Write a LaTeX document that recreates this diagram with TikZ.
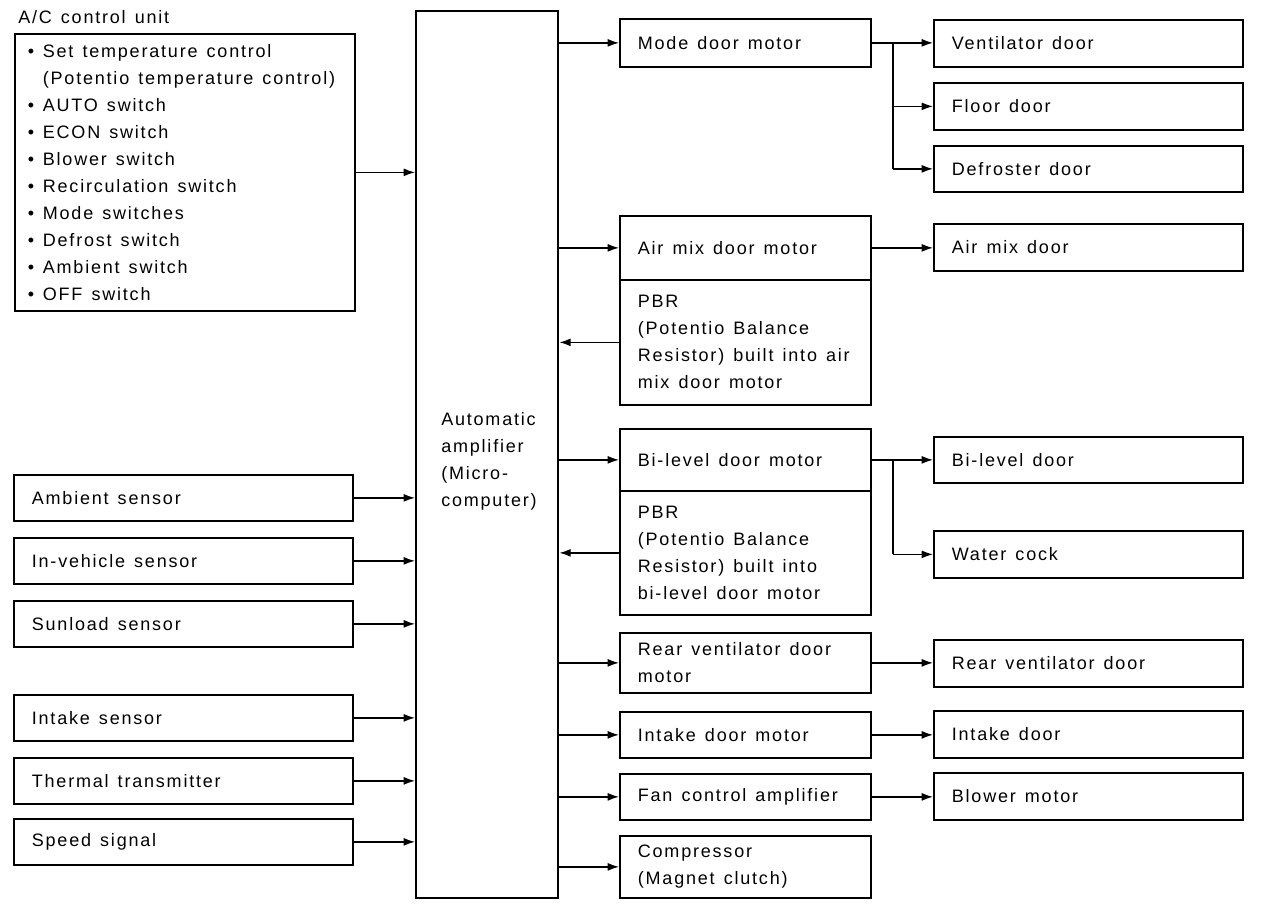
\documentclass[tikz,border=0pt]{standalone}
\usepackage{fontspec}
\setmainfont{Liberation Sans}[LetterSpace=10, WordSpace=1.8]
\usetikzlibrary{arrows.meta}
\newcommand{\fsz}{\fontsize{13.5pt}{20.25pt}\selectfont}
\newcommand{\wsp}{\spaceskip=6.8pt plus 2pt minus 1pt\xspaceskip=6.8pt plus 2pt minus 1pt\relax}
\newcommand{\bul}{\makebox[11.25pt][l]{\textbullet}}
\newcommand{\nob}{\hspace*{11.25pt}}
\tikzset{
  every node/.style={font=\fsz, execute at begin node={\wsp}},
  bx/.style={draw, line width=1.3pt, anchor=north west, inner xsep=13.5pt, inner ysep=0pt, align=left},
  mid/.style={bx, text width=161.25pt},
  rgt/.style={bx, text width=204.75pt},
  lft/.style={bx, text width=227.25pt},
  arr/.style={line width=1.1pt, -{Latex[length=8.5pt,width=6pt]}},
  ln/.style={line width=1.1pt},
}
\begin{document}
\begin{tikzpicture}[x=0.75pt,y=-0.75pt]
\useasboundingbox (0,0) rectangle (1264,908);
% title and A/C control unit
\node[anchor=west, inner sep=0pt] (title) at (18,17) {A/C control unit};
\node[bx, inner xsep=9.75pt, text width=235.5pt, minimum height=207.75pt] (acu) at (14,33)
 {\bul Set temperature control\\
  \nob(Potentio temperature control)\\
  \bul AUTO switch\\
  \bul ECON switch\\
  \bul Blower switch\\
  \bul Recirculation switch\\
  \bul Mode switches\\
  \bul Defrost switch\\
  \bul Ambient switch\\
  \bul OFF switch};
% amplifier
\node[draw, line width=1.8pt, anchor=north west, minimum width=106.5pt, minimum height=665.25pt, inner sep=0pt] (amp) at (415,10) {};
\node[anchor=west, align=left, inner sep=0pt] (amptext) at (441,461) {Automatic\\amplifier\\(Micro-\\computer)};
% left sensors
\node[lft, minimum height=34.5pt] (amb) at (13,474) {Ambient sensor};
\node[lft, minimum height=34.5pt] (inv) at (13,537) {In-vehicle sensor};
\node[lft, minimum height=34.5pt] (sun) at (13,600) {Sunload sensor};
\node[lft, minimum height=34.5pt] (ints) at (13,694) {Intake sensor};
\node[lft, minimum height=34.5pt] (thm) at (13,757) {Thermal transmitter};
\node[lft, minimum height=34.5pt] (spd) at (13,818) {Speed signal};
% middle column
\node[mid, minimum height=36pt] (mode) at (619,18) {Mode door motor};
\node[mid, minimum height=48pt] (airm) at (619,215) {Air mix door motor};
\node[mid, minimum height=93.75pt] (pbra) at (619,279) {PBR\\(Potentio Balance\\Resistor) built into air\\mix door motor};
\node[mid, minimum height=46.5pt] (bim) at (619,428) {Bi-level door motor};
\node[mid, minimum height=93pt] (pbrb) at (619,490) {PBR\\(Potentio Balance\\Resistor) built into\\bi-level door motor};
\node[mid, minimum height=45pt] (rear) at (619,632) {Rear ventilator door\\motor};
\node[mid, minimum height=34.5pt] (intm) at (619,711) {Intake door motor};
\node[mid, minimum height=34.5pt] (fan) at (619,773) {Fan control amplifier};
\node[mid, minimum height=46.5pt] (comp) at (619,835) {Compressor\\(Magnet clutch)};
% right column
\node[rgt, minimum height=35.25pt] (vent) at (933,19) {Ventilator door};
\node[rgt, minimum height=35.25pt] (floor) at (933,82) {Floor door};
\node[rgt, minimum height=34.5pt] (defr) at (933,145) {Defroster door};
\node[rgt, minimum height=35.25pt] (airdoor) at (933,223) {Air mix door};
\node[rgt, minimum height=34.5pt] (bidoor) at (933,436) {Bi-level door};
\node[rgt, minimum height=35.25pt] (water) at (933,530) {Water cock};
\node[rgt, minimum height=35.25pt] (rvd) at (933,639) {Rear ventilator door};
\node[rgt, minimum height=35.25pt] (intd) at (933,710) {Intake door};
\node[rgt, minimum height=35.25pt] (blow) at (933,772) {Blower motor};
% inputs
\draw[arr] (acu.east) -- (acu.east -| amp.west);
\foreach \n in {amb,inv,sun,ints,thm,spd}
  \draw[arr] (\n.east) -- (\n.east -| amp.west);
% outputs to middle
\foreach \n in {mode,airm,bim,rear,intm,fan,comp}
  \draw[arr] (amp.east |- \n.west) -- (\n.west);
% feedback
\draw[arr] (pbra.west) -- (pbra.west -| amp.east);
\draw[arr] (pbrb.west) -- (pbrb.west -| amp.east);
% middle to right
\coordinate (mb) at (893,42);
\coordinate (bb) at (893,460);
\draw[arr] (mode.east) -- (mode.east -| vent.west);
\draw[ln] (mb) -- (mb |- defr.west);
\draw[arr] (mb |- floor.west) -- (floor.west);
\draw[arr] (mb |- defr.west) -- (defr.west);
\draw[arr] (airm.east) -- (airm.east -| airdoor.west);
\draw[arr] (bim.east) -- (bim.east -| bidoor.west);
\draw[ln] (bb) -- (bb |- water.west);
\draw[arr] (bb |- water.west) -- (water.west);
\draw[arr] (rear.east) -- (rear.east -| rvd.west);
\draw[arr] (intm.east) -- (intm.east -| intd.west);
\draw[arr] (fan.east) -- (fan.east -| blow.west);
\end{tikzpicture}
\end{document}
